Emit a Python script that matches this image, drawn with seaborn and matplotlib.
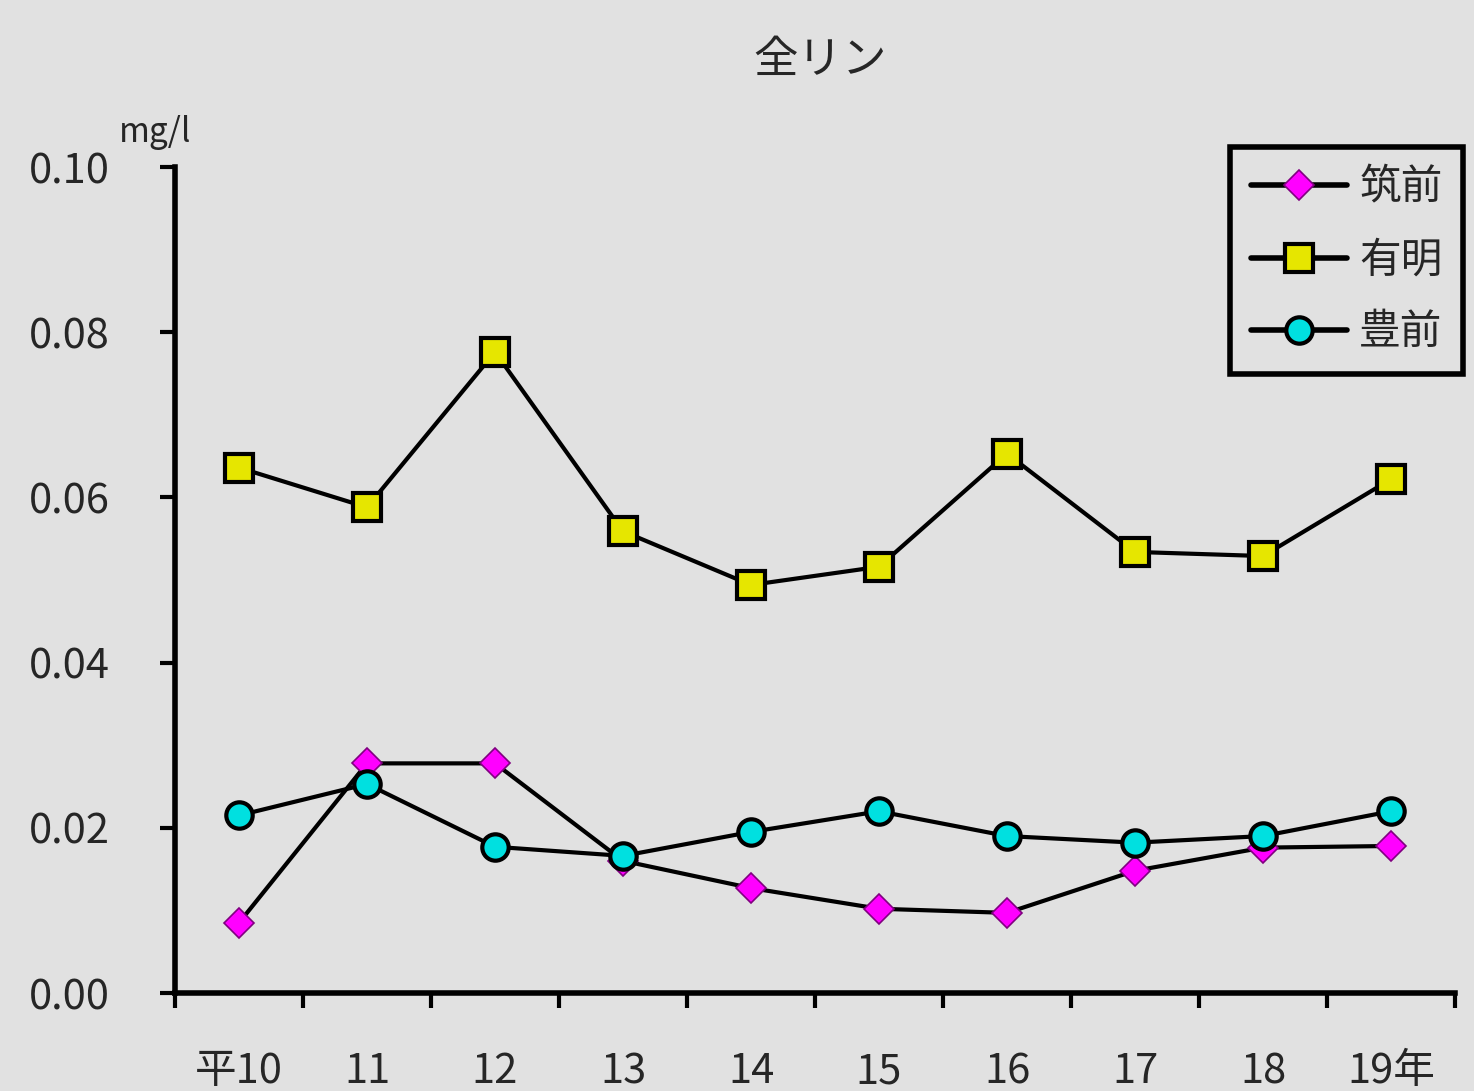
import matplotlib
matplotlib.use('Agg')
import matplotlib.pyplot as plt
import seaborn as sns
import pandas as pd

# data (mg/l)
years = ['平10', '11', '12', '13', '14', '15', '16', '17', '18', '19年']
chikuzen = [0.0085, 0.0278, 0.0278, 0.0160, 0.0127, 0.0102, 0.0097, 0.0148, 0.0176, 0.0178]
ariake = [0.0636, 0.0588, 0.0776, 0.0559, 0.0494, 0.0516, 0.0653, 0.0534, 0.0529, 0.0622]
buzen = [0.0215, 0.0253, 0.0177, 0.0166, 0.0195, 0.0220, 0.0190, 0.0182, 0.0190, 0.0220]

bg = '#e1e1e1'
sns.set_style('white')
plt.rcParams['font.family'] = ['Noto Sans CJK JP', 'DejaVu Sans']

fig = plt.figure(figsize=(14.74, 10.91), dpi=100, facecolor=bg)
ax = fig.add_axes([175 / 1474, 98 / 1091, 1280 / 1474, 826 / 1091])
ax.set_facecolor(bg)

x = list(range(len(years)))
series = [
    ('筑前', chikuzen, 'D', '#ff00ff', '#800080', 15, 1.2),
    ('有明', ariake, 's', '#e6e600', 'black', 20, 3),
    ('豊前', buzen, 'o', '#00e0e0', 'black', 19, 3),
]
for name, vals, mk, fc, ec, ms, mew in series:
    sns.lineplot(x=x, y=vals, ax=ax, color='black', linewidth=3,
                 marker=mk, markersize=ms, markerfacecolor=fc,
                 markeredgecolor=ec, markeredgewidth=mew, label=name)

ax.set_xlim(-0.5, len(years) - 0.5)
ax.set_ylim(0, 0.10)

# category boundaries get the tick marks, labels sit in between
ax.set_xticks([i - 0.5 for i in range(len(years) + 1)])
ax.set_xticklabels([])
ax.set_xticks(x, minor=True)
ax.set_xticklabels(years, minor=True, fontsize=30)
ax.tick_params(axis='x', which='major', bottom=True, direction='out',
               length=11, width=3, color='black')
ax.tick_params(axis='x', which='minor', bottom=True, length=0, pad=42)

yt = [0.0, 0.02, 0.04, 0.06, 0.08, 0.10]
ax.set_yticks(yt)
ax.set_yticklabels([f'{v:.2f}' for v in yt], fontsize=30)
ax.tick_params(axis='y', left=True, direction='out', length=11, width=3,
               color='black', pad=36)

for s in ['top', 'right']:
    ax.spines[s].set_visible(False)
for s in ['left', 'bottom']:
    ax.spines[s].set_linewidth(4)
    ax.spines[s].set_color('black')
ax.grid(False)

ax.set_xlabel('')
ax.set_ylabel('')
fig.text(155 / 1474, 1 - 133 / 1091, 'mg/l', fontsize=24, ha='center', va='center')
fig.text(820 / 1474, 1 - 60 / 1091, '全リン', fontsize=32, ha='center', va='center')

leg = ax.legend(loc='upper left', bbox_to_anchor=(1230 / 1474, 1 - 147 / 1091),
                bbox_transform=fig.transFigure, borderaxespad=0, fontsize=30,
                handlelength=2.3, labelspacing=0.75, borderpad=0.5,
                handletextpad=0.3, frameon=True, fancybox=False,
                facecolor=bg, edgecolor='black')
leg.get_frame().set_linewidth(4)
leg.get_frame().set_alpha(1)
for ln in leg.get_lines():
    ln.set_linewidth(4)

fig.savefig('out.png', dpi=100, facecolor=bg)
